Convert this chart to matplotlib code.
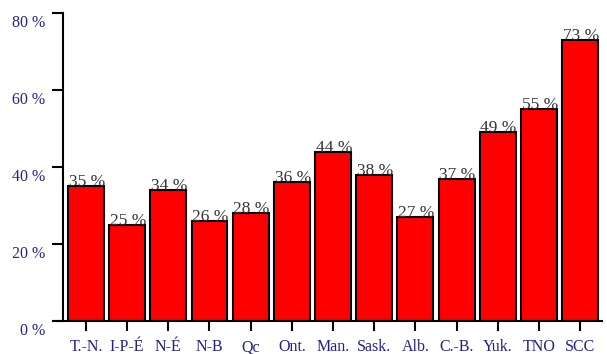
import matplotlib
matplotlib.use('Agg')
import matplotlib.pyplot as plt
import matplotlib.transforms as mtransforms

provinces = ['T.-N.', 'I-P-É', 'N-É', 'N-B', 'Qc', 'Ont.', 'Man.', 'Sask.',
             'Alb.', 'C.-B.', 'Yuk.', 'TNO', 'SCC']
rates = [35, 25, 34, 26, 28, 36, 44, 38, 27, 37, 49, 55, 73]
yticks = [0, 20, 40, 60, 80]

plt.rcParams['font.family'] = ['Liberation Serif', 'DejaVu Serif']
label_blue = '#22228a'

fig = plt.figure(figsize=(6.07, 3.54), dpi=100)
ax = fig.add_axes([55 / 607, 1 - 321 / 354, 547 / 607, 308 / 354])

# y axis sits a bit right of where the x axis starts
ax.spines['left'].set_position(('data', -0.56))
for side in ('top', 'right'):
    ax.spines[side].set_visible(False)
for side in ('left', 'bottom'):
    ax.spines[side].set_linewidth(1.5)

xs = range(len(provinces))
ax.bar(xs, rates, width=0.87, color='#ff0000', edgecolor='black', linewidth=1.5)
for x, v in zip(xs, rates):
    ax.text(x + 0.02, v, f'{v} %', ha='center', va='baseline', fontsize=12.5, color='#333333')

ax.set_xlim(-0.75, 12.53)
ax.set_ylim(0, 80)
ax.set_yticks(yticks)
ax.set_yticklabels([f'{t} %' for t in yticks], color=label_blue, fontsize=11.5)
ax.set_xticks(list(xs))
ax.set_xticklabels(provinces, color=label_blue, fontsize=11.5)

ax.tick_params(axis='y', direction='out', length=8, width=1.5, pad=5)
ax.tick_params(axis='x', direction='out', length=7, width=1.5, pad=6)

# nudge the y labels down a little, below their ticks
shift = mtransforms.ScaledTranslation(0, -8 / 100, fig.dpi_scale_trans)
for lbl in ax.get_yticklabels():
    lbl.set_transform(lbl.get_transform() + shift)

plt.savefig('out.png', dpi=100)
